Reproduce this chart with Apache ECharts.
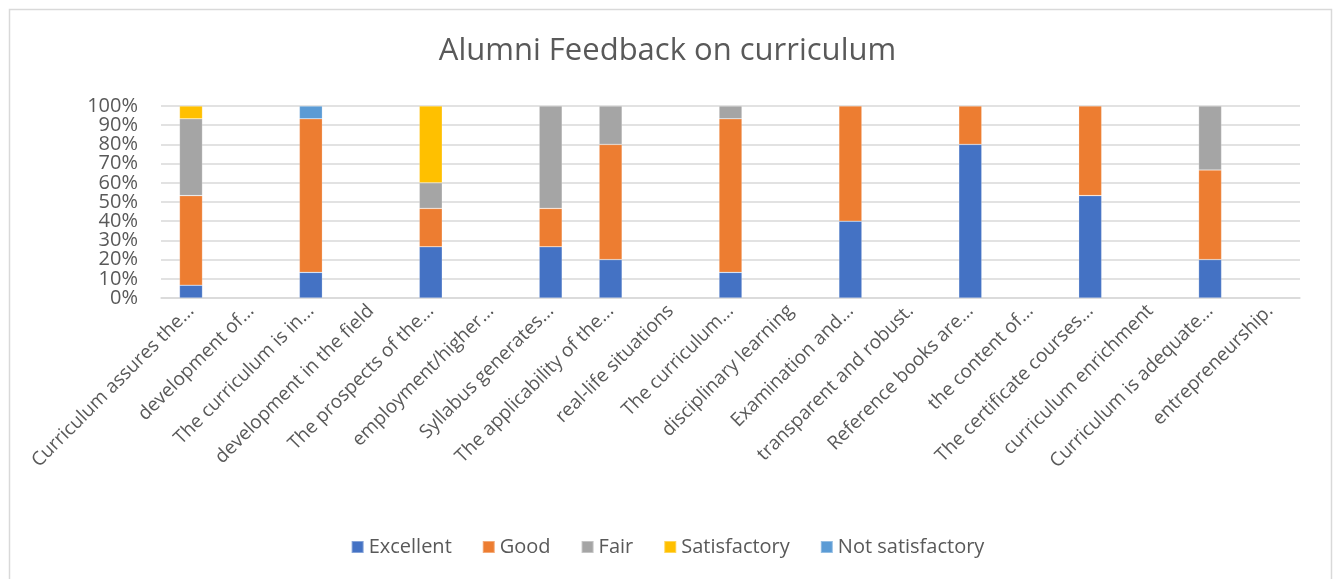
<!DOCTYPE html>
<html>
<head>
<meta charset="utf-8">
<title>Alumni Feedback on curriculum</title>
<script src="https://cdn.jsdelivr.net/npm/echarts@6/dist/echarts.min.js"></script>
<style>
  html, body { margin: 0; padding: 0; background: #ffffff; }
  #chart { width: 1335px; height: 579px; }
</style>
</head>
<body>
<div id="chart"></div>
<script>
// Survey statements (as shown, truncated) along the category axis
const categories = [
  'Curriculum assures the...',
  'development of...',
  'The curriculum is in...',
  'development in the field',
  'The prospects of the...',
  'employment/higher...',
  'Syllabus generates...',
  'The applicability of the...',
  'real-life situations',
  'The curriculum...',
  'disciplinary learning',
  'Examination and...',
  'transparent and robust.',
  'Reference books are...',
  'the content of...',
  'The certificate courses...',
  'curriculum enrichment',
  'Curriculum is adequate...',
  'entrepreneurship.'
];

// Share of responses per rating, in percent
const excellent       = [6.67, null, 13.33, null, 26.67, null, 26.67, 20, null, 13.33, null, 40, null, 80, null, 53.33, null, 20, null];
const good            = [46.66, null, 80, null, 20, null, 20, 60, null, 80, null, 60, null, 20, null, 46.67, null, 46.67, null];
const fair            = [40, null, null, null, 13.33, null, 53.33, 20, null, 6.67, null, null, null, null, null, null, null, 33.33, null];
const satisfactory    = [6.67, null, null, null, 40, null, null, null, null, null, null, null, null, null, null, null, null, null, null];
const notSatisfactory = [null, null, 6.67, null, null, null, null, null, null, null, null, null, null, null, null, null, null, null, null];

// Percentage scale: 0% to 100% in steps of 10
const yMin = 0;
const yMax = 100;
const yStep = 10;

const seriesDefs = [
  { name: 'Excellent', data: excellent, color: '#4472C4' },
  { name: 'Good', data: good, color: '#ED7D31' },
  { name: 'Fair', data: fair, color: '#A5A5A5' },
  { name: 'Satisfactory', data: satisfactory, color: '#FFC000' },
  { name: 'Not satisfactory', data: notSatisfactory, color: '#5B9BD5' }
];

const FONT = '"Open Sans", "Noto Sans", sans-serif';
const TEXT = '#595959';

const yLabel = {
  margin: 23,
  fontFamily: FONT,
  fontSize: 20,
  color: TEXT,
  formatter: v => v + '%'
};

const chart = echarts.init(document.getElementById('chart'), null, { renderer: 'canvas' });

chart.setOption({
  animation: false,
  backgroundColor: '#ffffff',
  textStyle: { fontFamily: FONT },
  graphic: [{
    type: 'rect',
    left: 7, top: 7,
    shape: { width: 1322, height: 620 },
    style: { fill: 'none', stroke: '#d9d9d9', lineWidth: 1.5 },
    silent: true
  }],
  title: {
    text: 'Alumni Feedback on curriculum',
    left: 'center',
    top: 31,
    textStyle: { fontFamily: FONT, fontSize: 31, fontWeight: 'normal', color: TEXT }
  },
  legend: {
    top: 532,
    left: 'center',
    itemWidth: 12,
    itemHeight: 12,
    itemGap: 30,
    icon: 'rect',
    textStyle: { fontFamily: FONT, fontSize: 20, color: TEXT },
    data: seriesDefs.map(s => s.name)
  },
  grid: { left: 161, right: 35, top: 106, bottom: 281, containLabel: false },
  xAxis: {
    type: 'category',
    data: categories,
    axisLine: { show: true, lineStyle: { color: '#d9d9d9', width: 1.5 } },
    axisTick: { show: false },
    axisLabel: {
      interval: 0,
      rotate: 45,
      margin: 10,
      fontFamily: FONT,
      fontSize: 19,
      color: TEXT
    }
  },
  yAxis: [
    {
      // gridlines and the inner tick labels (10% … 90%)
      type: 'value',
      position: 'left',
      min: yMin,
      max: yMax,
      interval: yStep,
      axisLine: { show: false },
      axisTick: { show: false },
      splitLine: { lineStyle: { color: '#d9d9d9', width: 1.5 } },
      axisLabel: Object.assign({ showMinLabel: false, showMaxLabel: false }, yLabel)
    },
    {
      // end labels (0% and 100%) on the same scale
      type: 'value',
      position: 'left',
      offset: 0,
      min: yMin,
      max: yMax,
      interval: yMax - yMin,
      axisLine: { show: false },
      axisTick: { show: false },
      splitLine: { show: false },
      axisLabel: Object.assign({ showMinLabel: true, showMaxLabel: true }, yLabel)
    }
  ],
  series: seriesDefs.map(s => ({
    name: s.name,
    type: 'bar',
    stack: 'total',
    barWidth: 23,
    yAxisIndex: 0,
    data: s.data,
    itemStyle: { color: s.color, borderColor: 'rgba(255,255,255,0.35)', borderWidth: 0.6 }
  }))
});
</script>
</body>
</html>
